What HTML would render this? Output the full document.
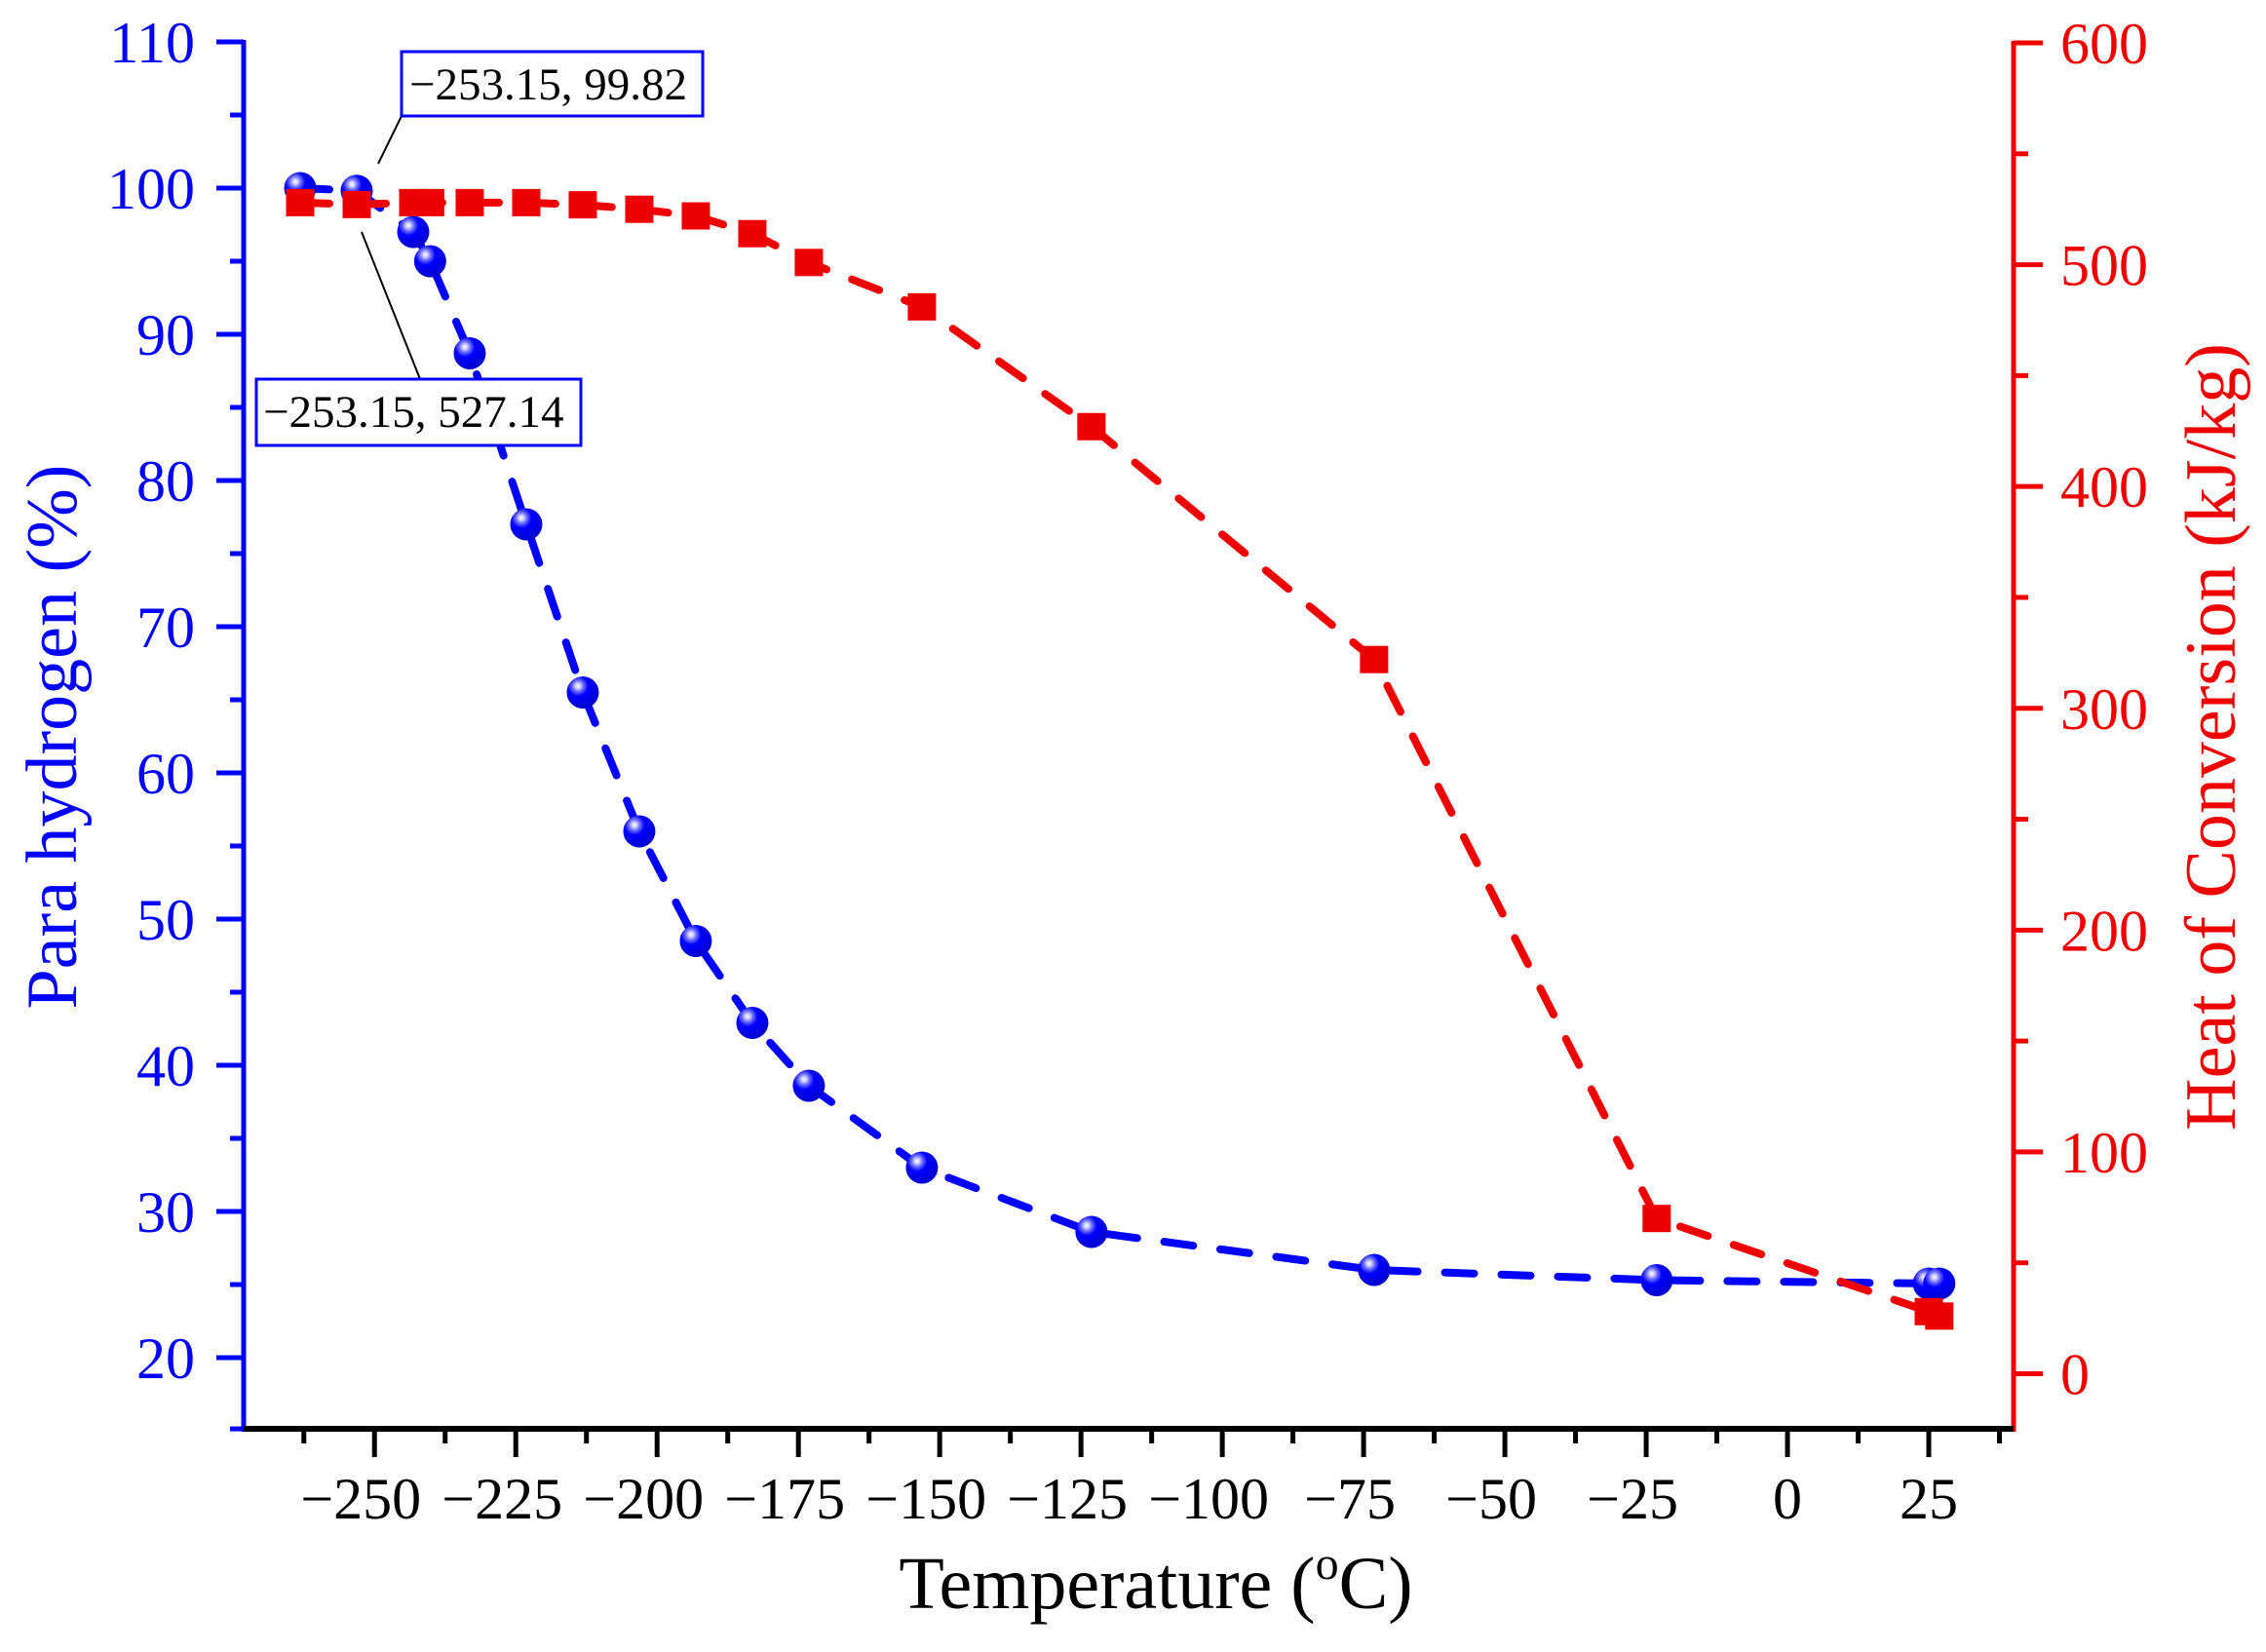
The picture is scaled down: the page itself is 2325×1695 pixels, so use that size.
<!DOCTYPE html>
<html><head><meta charset="utf-8"><style>
html,body{margin:0;padding:0;background:#fff;}
svg{display:block;font-family:"Liberation Serif",serif;}
</style></head><body>
<svg id="chart" width="2325" height="1695" viewBox="0 0 2325 1695" xmlns="http://www.w3.org/2000/svg">
<defs>
<radialGradient id="ball" cx="0.35" cy="0.3" r="0.7">
<stop offset="0" stop-color="#ffffff"/><stop offset="0.12" stop-color="#c8c8ff"/><stop offset="0.25" stop-color="#6a6aff"/><stop offset="0.45" stop-color="#0000ff"/><stop offset="1" stop-color="#0000d0"/>
</radialGradient>
</defs>
<g id="plot"></g>
<text x="1186" y="1650" text-anchor="middle" font-size="76" fill="#000">Temperature (<tspan font-size="48" dy="-30">o</tspan><tspan dy="30">C)</tspan></text>
<text transform="translate(78,756) rotate(-90)" text-anchor="middle" font-size="74" fill="#0000ff">Para hydrogen (%)</text>
<text transform="translate(2293,756) rotate(-90)" text-anchor="middle" font-size="74" fill="#ee0000">Heat of Conversion (kJ/kg)</text>
<g>
<line x1="412" y1="119" x2="388" y2="168" stroke="#000" stroke-width="2"/>
<rect x="412" y="53" width="309" height="66" fill="#fff" stroke="#0000ff" stroke-width="3"/>
<text x="420" y="102" font-size="47" fill="#000">−253.15, 99.82</text>
</g>
<g>
<line x1="371" y1="238" x2="431" y2="389" stroke="#000" stroke-width="2"/>
<rect x="263" y="389" width="333" height="68" fill="#fff" stroke="#0000ff" stroke-width="3"/>
<text x="270" y="438" font-size="47" fill="#000">−253.15, 527.14</text>
</g>
</svg>
<script>
const temps = [-263.15,-253.15,-243.15,-240.15,-233.15,-223.15,-213.15,-203.15,-193.15,-183.15,-173.15,-153.15,-123.15,-73.15,-23.15,25,26.85];
const paraPct = [100,99.82,97.0,95.0,88.7,77.0,65.5,56.0,48.5,42.9,38.6,33.0,28.6,26.0,25.3,25.07,25.07];
const heatConv = [528,527.14,528,528,528,528,527,525,522,514,501,481,427,322,70,28,26];
const xTicks = [-250,-225,-200,-175,-150,-125,-100,-75,-50,-25,0,25];
const yLeftTicks = [20,30,40,50,60,70,80,90,100,110];
const yRightTicks = [0,100,200,300,400,500,600];

const NS="http://www.w3.org/2000/svg";
const L=250,R=2066,B=1466;
const xMin=-273.15,xMax=40;
const X=v=>L+(v-xMin)/(xMax-xMin)*(R-L);
const YL=v=>1393-(v-20)*15;
const YR=v=>1409.5-v*2.2758;
const g=document.getElementById('plot');
function el(tag,attrs,parent){const e=document.createElementNS(NS,tag);for(const k in attrs)e.setAttribute(k,attrs[k]);(parent||g).appendChild(e);return e;}
function fmt(v){return v<0?'\u2212'+Math.abs(v):String(v);}

const bl=el('polyline',{points:temps.map((t,i)=>X(t)+','+YL(paraPct[i])).join(' '),fill:'none',stroke:'#0000ff','stroke-width':8,'stroke-dasharray':'30 28','stroke-linecap':'round','stroke-linejoin':'round'});


const rl=el('polyline',{points:temps.map((t,i)=>X(t)+','+YR(heatConv[i])).join(' '),fill:'none',stroke:'#ee0000','stroke-width':8,'stroke-dasharray':'30 28','stroke-linecap':'round','stroke-linejoin':'round'});


temps.forEach((t,i)=>{
 const c=el('circle',{cx:X(t),cy:YL(paraPct[i]),r:16.5,fill:'url(#ball)'});
 
 
});
temps.forEach((t,i)=>{
 const s=el('rect',{x:X(t)-14.5,y:YR(heatConv[i])-14,width:29,height:28,fill:'#ee0000'});
 
 
});

const la=el('line',{x1:L,y1:41,x2:L,y2:B+3,stroke:'#0000ff','stroke-width':5});


yLeftTicks.forEach(v=>{
 el('line',{x1:222,y1:YL(v),x2:L,y2:YL(v),stroke:'#0000ff','stroke-width':5});
 if(v<110)el('line',{x1:236,y1:YL(v+5),x2:L,y2:YL(v+5),stroke:'#0000ff','stroke-width':5});
 const t=el('text',{x:200,y:YL(v)+21,'text-anchor':'end','font-size':60,fill:'#0000ff'});t.textContent=v;
 
 
});
el('line',{x1:236,y1:YL(15.13),x2:L,y2:YL(15.13),stroke:'#0000ff','stroke-width':5});
const ra=el('line',{x1:R,y1:42,x2:R,y2:B+3,stroke:'#ee0000','stroke-width':5});


yRightTicks.forEach(v=>{
 el('line',{x1:R,y1:YR(v),x2:2096,y2:YR(v),stroke:'#ee0000','stroke-width':5});
 if(v<600)el('line',{x1:R,y1:YR(v+50),x2:2081,y2:YR(v+50),stroke:'#ee0000','stroke-width':5});
 const t=el('text',{x:2114,y:YR(v)+21,'text-anchor':'start','font-size':60,fill:'#ee0000'});t.textContent=v;
 
 
});
const ba=el('line',{x1:L,y1:B,x2:R,y2:B,stroke:'#000','stroke-width':6});


xTicks.forEach(v=>{
 el('line',{x1:X(v),y1:B,x2:X(v),y2:1495,stroke:'#000','stroke-width':5});
 const t=el('text',{x:X(v)-(v<0?14:0),y:1558,'text-anchor':'middle','font-size':60,fill:'#000'});t.textContent=fmt(v);
 
 
});
[-262.5,-237.5,-212.5,-187.5,-162.5,-137.5,-112.5,-87.5,-62.5,-37.5,-12.5,12.5,37.5].forEach(v=>{
 el('line',{x1:X(v),y1:B,x2:X(v),y2:1481,stroke:'#000','stroke-width':5});
});
</script>
</body></html>
